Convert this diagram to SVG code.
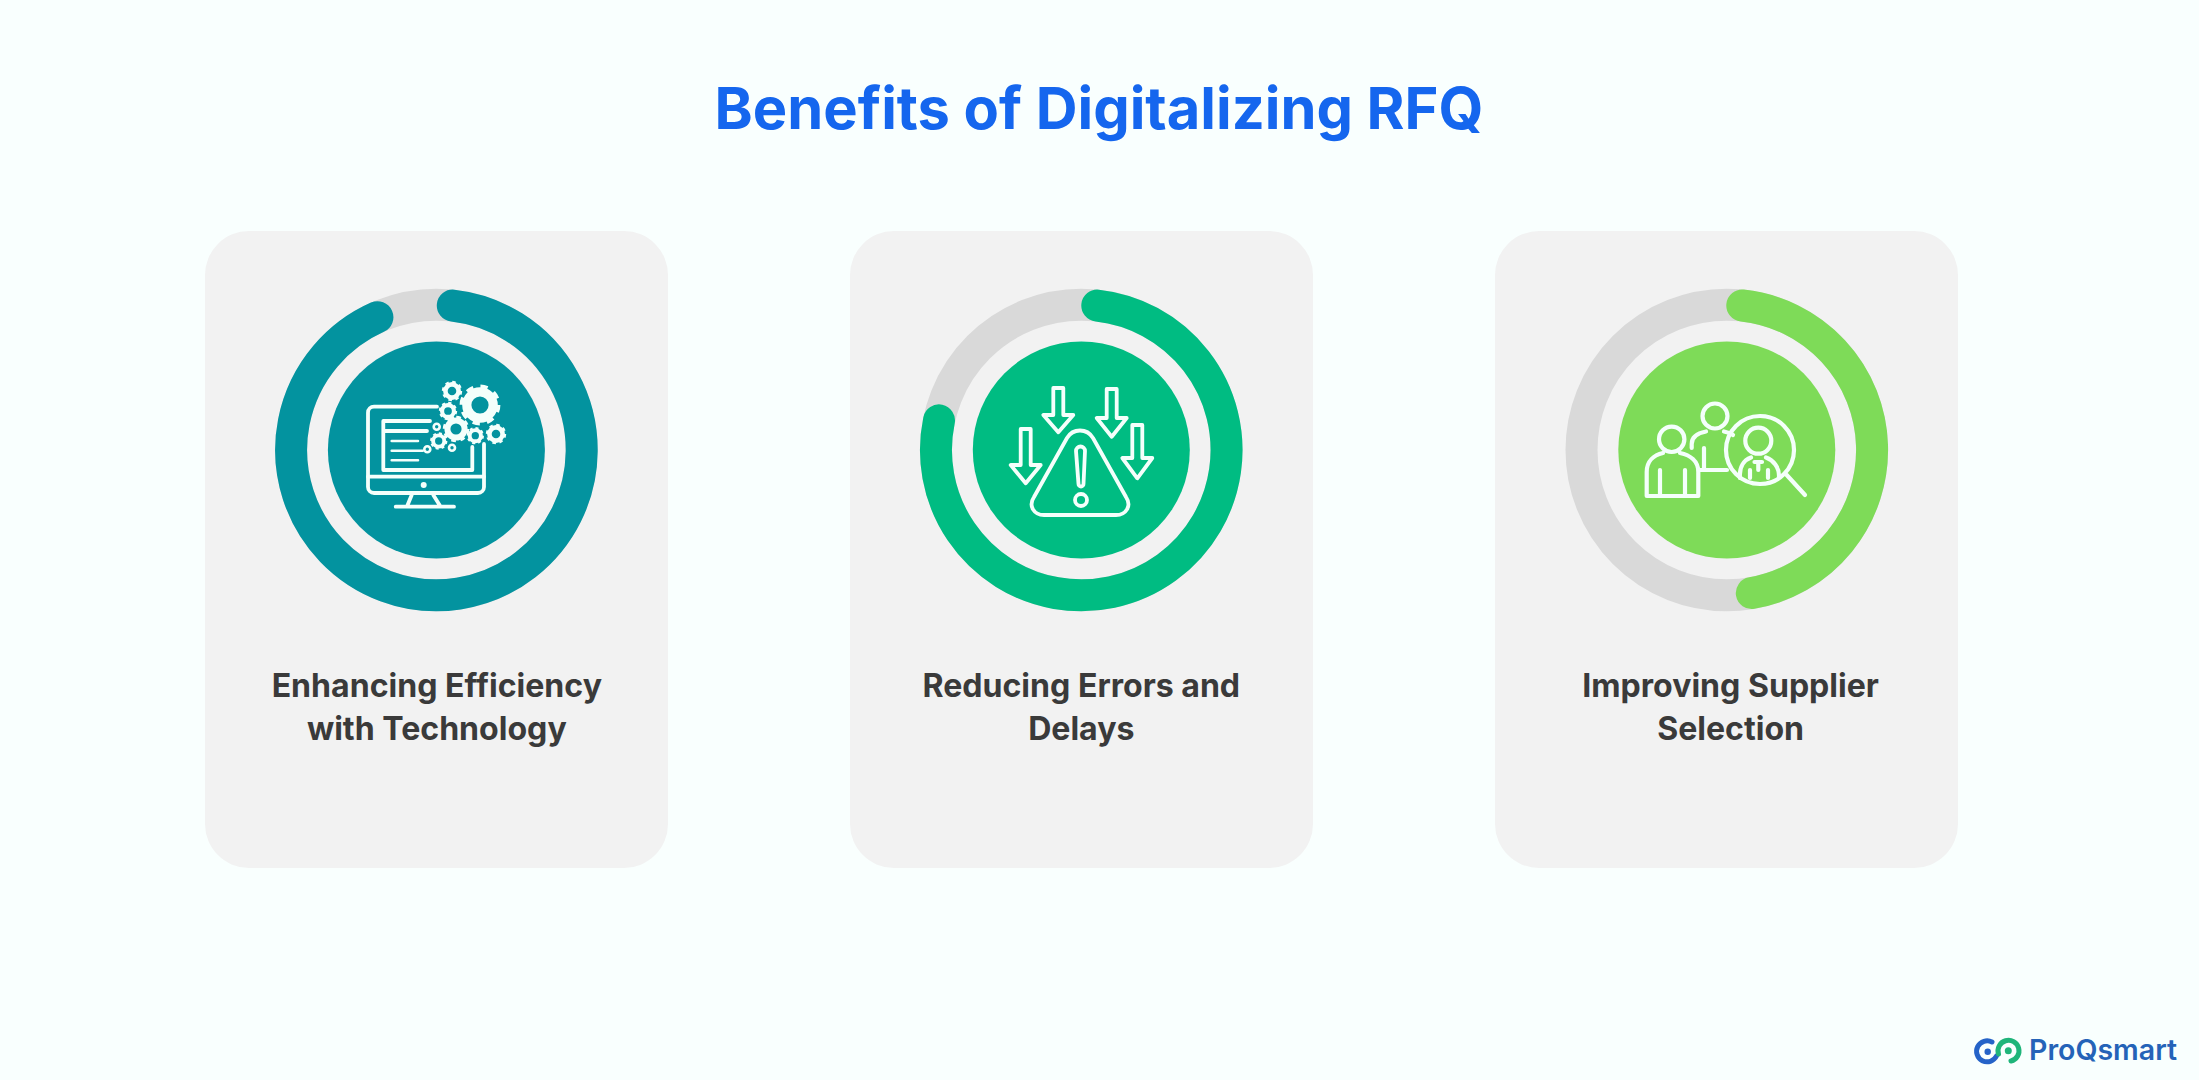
<svg xmlns="http://www.w3.org/2000/svg" xmlns:xlink="http://www.w3.org/1999/xlink" width="2199" height="1080" viewBox="0 0 2199 1080">
<style>
.card{fill:#f2f2f2}
.track{fill:none;stroke:#d9d9d9;stroke-width:32}
.arc{fill:none;stroke-width:32;stroke-linecap:round}
.ic{fill:none;stroke:#f4fffb;stroke-width:3.8;stroke-linecap:round;stroke-linejoin:round}
.ic-thick{stroke-width:4.2}
.ic-thin{stroke-width:2.6}
.title{font-family:Inter,"Liberation Sans",sans-serif;font-weight:700;font-size:57.8px;fill:#1566ee;text-anchor:middle}
.label{font-family:Inter,"Liberation Sans",sans-serif;font-weight:700;font-size:32.1px;fill:#3a3a3a;text-anchor:middle}
.brand{font-family:Inter,"Liberation Sans",sans-serif;font-weight:600;font-size:28.500px;fill:#2563b8}
</style>
<defs>
<g id="gear">
<circle r="0.66" fill="none" stroke="#f4fffb" stroke-width="0.46"/>
<circle r="0.9" fill="none" stroke="#f4fffb" stroke-width="0.24" stroke-dasharray="0.353 0.353"/>
</g>
</defs>
<rect width="2199" height="1080" fill="#f9fffe"/>
<text id="title" class="title" x="1099" y="129">Benefits of Digitalizing RFQ</text>

<g id="card-efficiency">
<rect class="card" x="205" y="231" width="463" height="637" rx="44"/>
<circle class="track" cx="436.4" cy="450" r="145.3"/>
<path class="arc" stroke="#03939f" d="M452.8 305.6A145.3 145.3 0 1 1 377.4 317.2"/>
<circle cx="436.4" cy="450" r="108.5" fill="#03939f"/>
<g class="ic">
<path d="M437 406.7H374a6 6 0 0 0-6 6V487a6 6 0 0 0 6 6H478a6 6 0 0 0 6-6V444"/>
<path d="M368 476.7H484M430 421H383.3V470H472.3V447M383.3 431H427"/>
<path d="M411.7 495L407.3 505.7M433.3 495L440 505.7M395.7 506.7H454"/>
</g>
<path class="ic ic-thin" d="M391.7 441H418M391.7 450.7H422.7M391.7 460.3H418"/>
<circle cx="423.7" cy="485" r="3" fill="#f4fffb"/>
<use xlink:href="#gear" href="#gear" transform="translate(480 405) scale(20)"/>
<use xlink:href="#gear" href="#gear" transform="translate(452 391) scale(10)"/>
<use xlink:href="#gear" href="#gear" transform="translate(448 411) scale(9)"/>
<use xlink:href="#gear" href="#gear" transform="translate(456 429) scale(13)"/>
<use xlink:href="#gear" href="#gear" transform="translate(475.3 435.7) scale(8.5)"/>
<use xlink:href="#gear" href="#gear" transform="translate(496 434) scale(10)"/>
<use xlink:href="#gear" href="#gear" transform="translate(438.7 441) scale(8.5)"/>
<g class="ic ic-thin">
<circle cx="436.7" cy="426.7" r="3"/><circle cx="427.3" cy="449.3" r="3"/><circle cx="452" cy="447.7" r="3"/>
</g>
<text class="label" x="436.8" y="697">Enhancing Efficiency</text>
<text class="label" x="436.8" y="740">with Technology</text>
</g>

<g id="card-errors">
<rect class="card" x="850" y="231" width="463" height="637" rx="44"/>
<circle class="track" cx="1081.3" cy="450" r="145.3"/>
<path class="arc" stroke="#00bc82" d="M1097.3 305.6A145.3 145.3 0 1 1 939 420.4"/>
<circle cx="1081.3" cy="450" r="108.5" fill="#00bc82"/>
<g class="ic">
<path d="M1067 438C1073 428 1087 428 1093 438L1126 497C1132 506 1126 515 1116 515H1044C1034 515 1028 506 1034 497Z"/>
<path d="M1076 451a4.500 4.500 0 0 1 9 0L1083.500 484a2.500 2.500 0 0 1-5 0Z"/>
<circle cx="1081" cy="500" r="6"/>
<path d="M1053.300 388H1063.300V415H1073.300L1058.300 432.300L1043.300 415H1053.300Z"/>
<path d="M1106.700 389H1116.700V418H1126.700L1111.700 436.700L1096.700 418H1106.700Z"/>
<path d="M1020.700 429H1030.700V465H1040.700L1025.700 483.300L1010.700 465H1020.700Z"/>
<path d="M1132.300 425H1142.300V458H1152.300L1137.300 478.300L1122.300 458H1132.300Z"/>
</g>
<text class="label" x="1081.3" y="697">Reducing Errors and</text>
<text class="label" x="1081.3" y="740">Delays</text>
</g>

<g id="card-supplier">
<rect class="card" x="1495" y="231" width="463" height="637" rx="44"/>
<circle class="track" cx="1726.8" cy="450" r="145.3"/>
<path class="arc" stroke="#7edb58" d="M1742.3 305.500A145.3 145.3 0 0 1 1751.800 593.100"/>
<circle cx="1726.8" cy="450" r="108.5" fill="#7edb58"/>
<g class="ic ic-thick">
<circle cx="1671.700" cy="439.300" r="12.700"/>
<path d="M1663 453C1654 455 1646.700 461 1646.700 472V496H1698.300V472C1698.300 461 1690 455 1680 453M1660 470V496M1685 470V496"/>
<circle cx="1715" cy="416" r="12.500"/>
<path d="M1691.700 448V444C1691.700 437 1698 433 1706 431.500M1724 431.500C1728 432.500 1731 433.500 1733 435M1704 448V470M1699 470H1727"/>
<circle cx="1760" cy="450" r="34"/>
<path d="M1786.700 475L1805 495"/>
<circle cx="1758.300" cy="440.700" r="13"/>
<path d="M1740 478C1739 467 1744 460 1751 457.500M1766 457.500C1773 460 1779.500 467 1779 477M1750 470V478M1768 470V478M1754.500 462H1762M1758.300 462V470"/>
</g>
<text class="label" x="1730.6" y="697">Improving Supplier</text>
<text class="label" x="1730.6" y="740">Selection</text>
</g>

<g id="logo">
<path d="M1992 1042A10.500 10.500 0 1 0 1996.500 1056" fill="none" stroke="#2563c8" stroke-width="5" stroke-linecap="round"/>
<circle cx="1987.700" cy="1051.700" r="3.200" fill="#2563c8"/>
<path d="M1998.500 1054A10.500 10.500 0 1 1 2011 1061" fill="none" stroke="#1fb57a" stroke-width="5" stroke-linecap="round"/>
<circle cx="2008.300" cy="1050.700" r="3.500" fill="#1fb57a"/>
<text class="brand" x="2029" y="1060">ProQsmart</text>
</g>
</svg>
